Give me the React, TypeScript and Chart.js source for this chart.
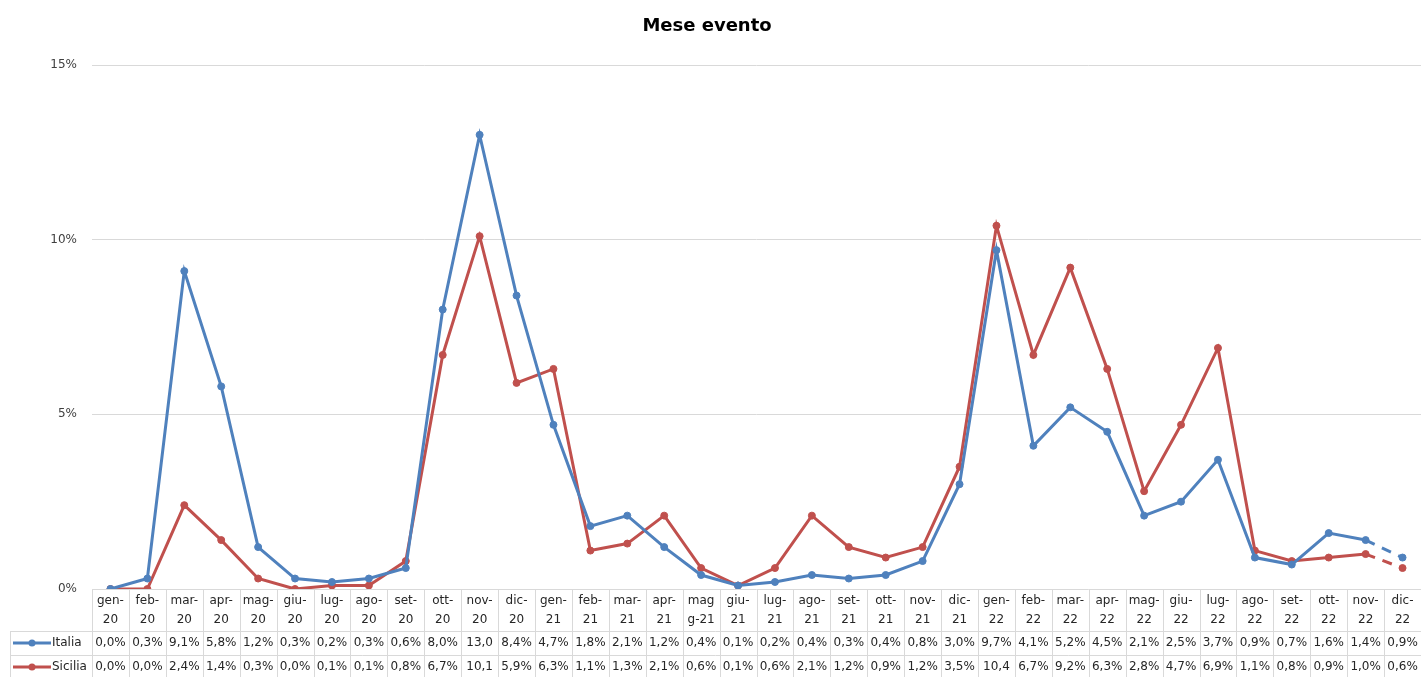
import React, { useEffect, useRef } from "react";
import { Chart, registerables } from "chart.js";

Chart.register(...registerables);

const categories: string[][] = [
  ["gen-", "20"], ["feb-", "20"], ["mar-", "20"], ["apr-", "20"], ["mag-", "20"], ["giu-", "20"],
  ["lug-", "20"], ["ago-", "20"], ["set-", "20"], ["ott-", "20"], ["nov-", "20"], ["dic-", "20"],
  ["gen-", "21"], ["feb-", "21"], ["mar-", "21"], ["apr-", "21"], ["mag", "g-21"], ["giu-", "21"],
  ["lug-", "21"], ["ago-", "21"], ["set-", "21"], ["ott-", "21"], ["nov-", "21"], ["dic-", "21"],
  ["gen-", "22"], ["feb-", "22"], ["mar-", "22"], ["apr-", "22"], ["mag-", "22"], ["giu-", "22"],
  ["lug-", "22"], ["ago-", "22"], ["set-", "22"], ["ott-", "22"], ["nov-", "22"], ["dic-", "22"],
];

const italia: number[] = [
  0.0, 0.3, 9.1, 5.8, 1.2, 0.3, 0.2, 0.3, 0.6, 8.0, 13.0, 8.4,
  4.7, 1.8, 2.1, 1.2, 0.4, 0.1, 0.2, 0.4, 0.3, 0.4, 0.8, 3.0,
  9.7, 4.1, 5.2, 4.5, 2.1, 2.5, 3.7, 0.9, 0.7, 1.6, 1.4, 0.9,
];

const sicilia: number[] = [
  0.0, 0.0, 2.4, 1.4, 0.3, 0.0, 0.1, 0.1, 0.8, 6.7, 10.1, 5.9,
  6.3, 1.1, 1.3, 2.1, 0.6, 0.1, 0.6, 2.1, 1.2, 0.9, 1.2, 3.5,
  10.4, 6.7, 9.2, 6.3, 2.8, 4.7, 6.9, 1.1, 0.8, 0.9, 1.0, 0.6,
];

const yTicks: number[] = [0, 5, 10, 15];
const seriesNames: string[] = ["Italia", "Sicilia"];
const seriesColors: string[] = ["#4f81bd", "#c0504d"];
const titleText = "Mese evento";

const FONT = "DejaVu Sans";

function fmt(v: number): string {
  const s = v.toFixed(1).replace(".", ",");
  return v >= 10 ? s : s + "%";
}

const tablePlugin = {
  id: "tablePlugin",
  afterDraw(chart: any) {
    const ctx = chart.ctx as CanvasRenderingContext2D;
    const area = chart.chartArea;
    const n = categories.length;
    const colW = (area.right - area.left) / n;
    const top = area.bottom;
    const headerBottom = top + 42;
    const row1Bottom = headerBottom + 24;
    const row2Bottom = row1Bottom + 24;
    const legendLeft = 10;

    ctx.save();
    // title
    ctx.fillStyle = "#000";
    ctx.font = `bold 18px "${FONT}"`;
    ctx.textAlign = "center";
    ctx.textBaseline = "middle";
    ctx.fillText(titleText, 707, 26);

    // grid lines of the table
    ctx.strokeStyle = "#d9d9d9";
    ctx.lineWidth = 1;
    ctx.beginPath();
    for (let i = 0; i <= n; i++) {
      const x = Math.round(area.left + i * colW) + 0.5;
      ctx.moveTo(x, top);
      ctx.lineTo(x, row2Bottom);
    }
    ctx.moveTo(legendLeft + 0.5, headerBottom);
    ctx.lineTo(legendLeft + 0.5, row2Bottom);
    for (const y of [headerBottom, row1Bottom, row2Bottom]) {
      ctx.moveTo(legendLeft, Math.round(y) + 0.5);
      ctx.lineTo(area.right, Math.round(y) + 0.5);
    }
    ctx.stroke();

    // header text
    ctx.fillStyle = "#262626";
    ctx.font = `12px "${FONT}"`;
    ctx.textAlign = "center";
    ctx.textBaseline = "middle";
    for (let i = 0; i < n; i++) {
      const cx = chart.scales.x.getPixelForValue(i);
      ctx.fillText(categories[i][0], cx, top + 12);
      ctx.fillText(categories[i][1], cx, top + 31);
    }

    // value rows
    const rows = [italia, sicilia];
    const rowY = [headerBottom + 12, row1Bottom + 12];
    rows.forEach((vals, r) => {
      const y = rowY[r];
      for (let i = 0; i < n; i++) {
        const cx = chart.scales.x.getPixelForValue(i);
        ctx.fillStyle = "#262626";
        ctx.textAlign = "center";
        ctx.fillText(fmt(vals[i]), cx, y);
      }
      // legend key
      ctx.strokeStyle = seriesColors[r];
      ctx.lineWidth = 3;
      ctx.beginPath();
      ctx.moveTo(13, y);
      ctx.lineTo(51, y);
      ctx.stroke();
      ctx.fillStyle = seriesColors[r];
      ctx.beginPath();
      ctx.arc(32, y, 3.5, 0, Math.PI * 2);
      ctx.fill();
      ctx.fillStyle = "#262626";
      ctx.textAlign = "left";
      ctx.fillText(seriesNames[r], 52, y);
    });
    ctx.restore();
  },
};

export default function App() {
  const ref = useRef<HTMLCanvasElement>(null);
  useEffect(() => {
    if (!ref.current) return;
    const mk = (name: string, data: number[], color: string) => ({
      label: name,
      data,
      borderColor: color,
      backgroundColor: color,
      borderWidth: 3,
      pointRadius: 3.5,
      pointBorderWidth: 1,
      pointBackgroundColor: color,
      pointBorderColor: color,
      tension: 0,
      segment: {
        borderDash: (c: any) => (c.p0DataIndex === data.length - 2 ? [10, 8] : undefined),
      },
    });
    const chart = new Chart(ref.current, {
      type: "line",
      data: {
        labels: categories.map((c) => c.join("")),
        datasets: [
          mk(seriesNames[0], italia, seriesColors[0]),
          mk(seriesNames[1], sicilia, seriesColors[1]),
        ],
      },
      options: {
        responsive: false,
        animation: false,
        layout: { autoPadding: false, padding: { top: 65, bottom: 88, left: 0, right: -3 } },
        plugins: { legend: { display: false }, tooltip: { enabled: false }, title: { display: false } },
        scales: {
          x: { display: false, offset: true },
          y: {
            min: 0,
            max: 15,
            afterBuildTicks: (s: any) => {
              s.ticks = yTicks.map((v) => ({ value: v }));
            },
            afterFit: (s: any) => {
              s.width = 92;
            },
            grid: { color: "#d9d9d9", drawTicks: false, lineWidth: 1 },
            border: { display: false },
            ticks: {
              padding: 15,
              color: "#404040",
              font: { family: FONT, size: 12 },
              callback: (v: any) => v + "%",
            },
          },
        },
      },
      plugins: [tablePlugin],
    });
    return () => chart.destroy();
  }, []);
  return (
    <div style={{ position: "fixed", left: 0, top: 0, width: 1421, height: 677, background: "#fff" }}>
      <canvas ref={ref} width={1421} height={677} />
    </div>
  );
}
